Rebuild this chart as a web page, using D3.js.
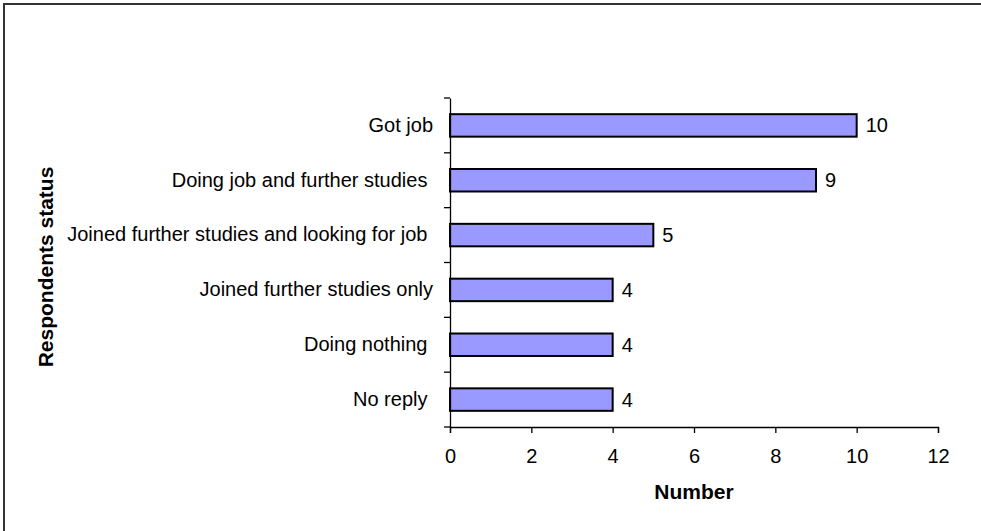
<!DOCTYPE html>
<html><head><meta charset="utf-8">
<script src="https://cdn.jsdelivr.net/npm/d3@7"></script>
<style>body{margin:0;background:#fff;overflow:hidden}svg{display:block}text{font-family:"Liberation Sans",Arial,sans-serif;white-space:pre}</style>
</head><body><svg id="c" width="981" height="531"></svg>
<script>
const categories = ["Got job","Doing job and further studies ","Joined further studies and looking for job ","Joined further studies only","Doing nothing ","No reply "];
const values = [10,9,5,4,4,4];
const xTicks = [0,2,4,6,8,10,12];

const svg = d3.select("#c");
svg.append("path").attr("d","M4,531V4H981")
  .attr("fill","none").attr("stroke","#333").attr("stroke-width",2);

const L=450, R=938, T=98, B=427;
const x = d3.scaleLinear().domain([0,12]).range([L,R]);
const y = d3.scaleBand().domain(categories).range([T,B]).paddingInner(0.59).paddingOuter(0.295);
const yb = d3.scaleBand().domain(categories).range([T,B]);
const FS = 20;

// bars
svg.selectAll("rect.bar").data(values).join("rect").attr("class","bar")
  .attr("x",x(0)).attr("y",(d,i)=>y(categories[i]))
  .attr("width",d=>x(d)-x(0)).attr("height",y.bandwidth())
  .attr("fill","#9999FF").attr("stroke","#000").attr("stroke-width",2);

// value labels
svg.selectAll("text.val").data(values).join("text").attr("class","val")
  .attr("x",d=>x(d)+9).attr("y",(d,i)=>y(categories[i])+y.bandwidth()/2)
  .attr("dy","0.35em").attr("font-size",FS).attr("fill","#000").text(d=>d);

// x axis
const xa = svg.append("g").attr("transform",`translate(0,${B})`)
  .call(d3.axisBottom(x).tickValues(xTicks).tickSize(6).tickPadding(16).tickFormat(d3.format("d")));
xa.select(".domain").attr("stroke","#000").attr("stroke-width",1.3);
xa.selectAll(".tick line").attr("stroke","#000").attr("stroke-width",1.3);
xa.selectAll("text").attr("font-size",FS).attr("fill","#000").attr("font-family","'Liberation Sans',Arial,sans-serif");

// y axis
const ya = svg.append("g").attr("transform",`translate(${L},0)`)
  .call(d3.axisLeft(yb).tickSize(0).tickPadding(17));
ya.select(".domain").attr("stroke","#000").attr("stroke-width",1.3);
ya.selectAll("text").attr("font-size",FS).attr("fill","#000").attr("font-family","'Liberation Sans',Arial,sans-serif");
// boundary ticks between categories
const bounds = categories.map(c=>yb(c)).concat([B]);
svg.selectAll("line.yt").data(bounds).join("line").attr("class","yt")
  .attr("x1",L-6).attr("x2",L).attr("y1",d=>d).attr("y2",d=>d)
  .attr("stroke","#000").attr("stroke-width",1.3);

// titles
svg.append("text").attr("x",694).attr("y",499).attr("text-anchor","middle")
  .attr("font-size",21).attr("font-weight","bold").text("Number");
svg.append("text").attr("transform",`translate(53,267) rotate(-90)`).attr("text-anchor","middle")
  .attr("font-size",21).attr("font-weight","bold").text("Respondents status");
</script></body></html>
